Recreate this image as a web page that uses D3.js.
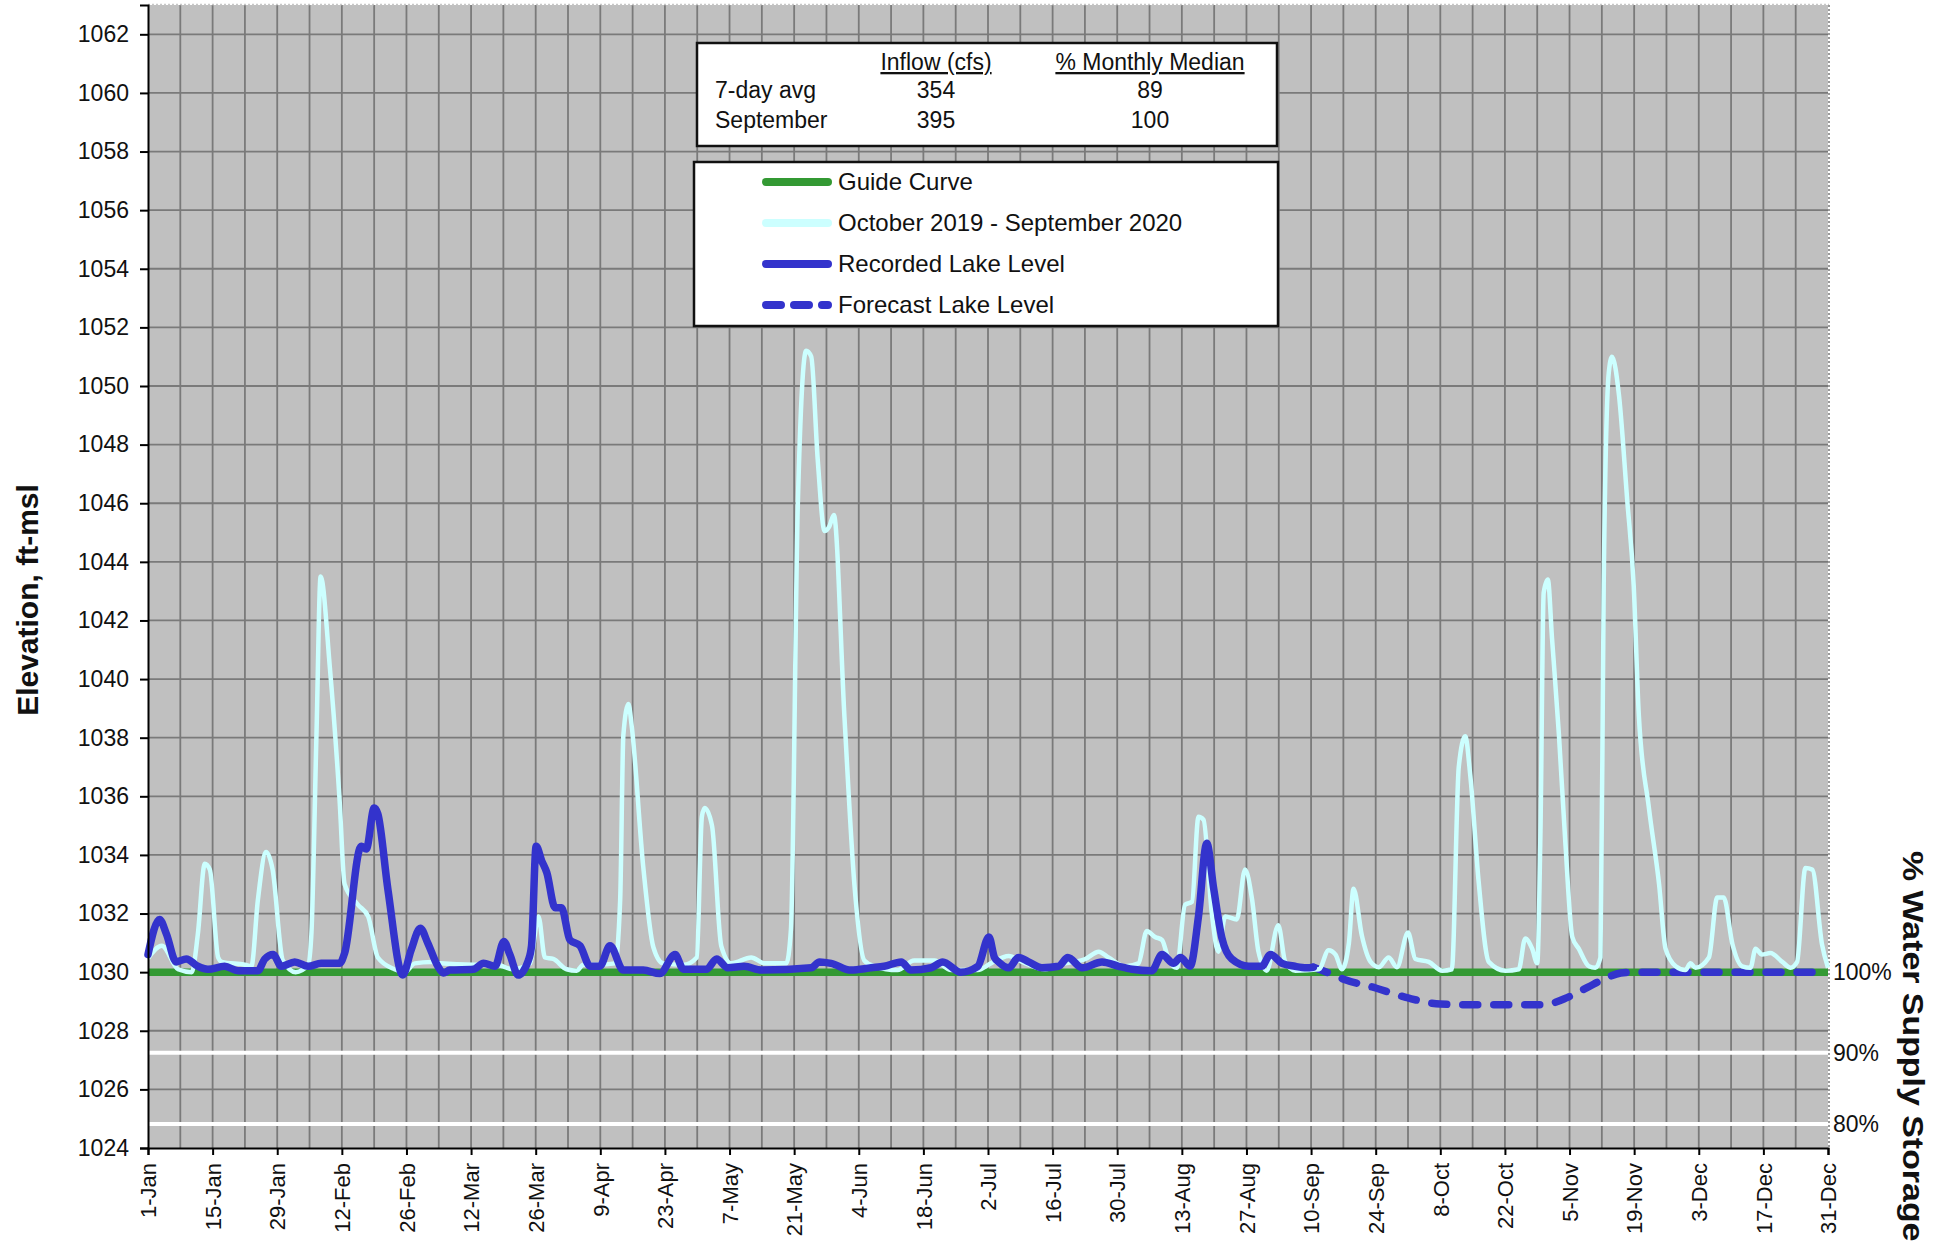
<!DOCTYPE html>
<html>
<head>
<meta charset="utf-8">
<script src="https://cdn.jsdelivr.net/npm/d3@7"></script>
<style>
body{margin:0;background:#fff;}
text{font-family:"Liberation Sans",Arial,sans-serif;fill:#111;}
</style>
</head>
<body>
<div id="chart"></div>
<script>
// x axis: day of year (0 = 1-Jan, 364 = 31-Dec), labels every 14 days
var xTickLabels = ["1-Jan","15-Jan","29-Jan","12-Feb","26-Feb","12-Mar","26-Mar","9-Apr","23-Apr",
    "7-May","21-May","4-Jun","18-Jun","2-Jul","16-Jul","30-Jul","13-Aug","27-Aug","10-Sep",
    "24-Sep","8-Oct","22-Oct","5-Nov","19-Nov","3-Dec","17-Dec","31-Dec"];
var yTicks = [1024,1026,1028,1030,1032,1034,1036,1038,1040,1042,1044,1046,1048,1050,1052,1054,1056,1058,1060,1062];

// right axis, % water supply storage
var storagePct = ["100%","90%","80%"];
var storageLevel = [1030,1027.25,1024.82];

// guide curve
var guideDays = [0,364];
var guideLevels = [1030,1030];

// October 2019 - September 2020
var histDays = [0,3,6.5,9.5,10.8,12.3,13.4,15.2,16,21,22.4,23.8,25.6,27,29.2,32,34.7,35.4,36.5,37.4,
    39.4,41.5,42.6,45.5,47.7,49.8,53.4,55.6,57.8,61.4,63.3,70.5,75.5,79,82.8,84.6,86,87.8,90.7,92.9,
    94.3,97.2,101.2,102.3,103,104.1,104.8,107.3,109.5,111.6,116,118.9,120,120.6,122.2,124.2,126.4,
    130.7,133.6,138.3,139.3,140.8,142.6,143.7,145.1,146.6,147.6,148.6,150.9,153.1,155.2,157.4,162.4,
    166,170.4,174,179.8,182.6,186.5,189.4,194.4,198.7,203.1,206,208.1,211.7,214.6,216.4,218.2,219.7,
    221.1,222.9,224.7,226.2,227.6,228.7,230.5,231.9,233.4,235.9,237.7,239.2,240.6,242.4,244.9,246.4,
    248.6,253.7,255.8,257.3,258.7,260.2,261.2,263,264.9,266.7,268.8,270.6,273,274.6,277.5,280.4,282.5,
    284,285.4,286.5,288.3,290.5,294.1,297,298.4,299.9,301,301.7,302.4,303.3,304.2,305.7,307.1,308.6,
    310,312.2,313.6,314.7,315.4,316.5,317.2,318.7,320.5,321.9,323,325.2,327.4,328.8,331,333.1,334.2,
    335.3,338.2,340,341.4,343.3,345.4,347.2,348.3,349.7,351.5,354.1,355.9,357.3,359.1,360.6,362.7,364];
var histLevels = [1030.47,1030.9,1030.1,1030.0,1031.3,1033.7,1033.5,1030.5,1030.35,1030.25,1030.2,1032.45,
    1034.1,1033.5,1030.4,1030.0,1030.25,1031.3,1038.1,1043.5,1040.4,1035.9,1033.0,1032.3,1031.9,1030.5,
    1030.1,1030.0,1030.3,1030.35,1030.3,1030.25,1030.25,1030.1,1030.3,1031.9,1030.5,1030.45,1030.1,
    1030.05,1030.25,1030.25,1030.3,1032.45,1038.1,1039.15,1038.4,1033.6,1030.85,1030.3,1030.25,1030.5,
    1035.3,1035.6,1035.0,1030.9,1030.3,1030.5,1030.3,1030.3,1031.45,1046.0,1051.2,1051.0,1047.5,1045.05,
    1045.2,1045.6,1038.7,1032.9,1030.4,1030.2,1030.07,1030.4,1030.4,1030.07,1030.07,1030.3,1030.55,
    1030.35,1030.1,1030.3,1030.45,1030.7,1030.5,1030.2,1030.3,1031.4,1031.2,1031.1,1030.45,1030.15,
    1032.3,1032.4,1035.3,1035.2,1032.0,1030.7,1031.9,1031.8,1033.5,1032.5,1030.7,1030.05,1031.6,
    1030.35,1030.05,1030.1,1030.75,1030.6,1030.1,1031.0,1032.85,1031.25,1030.35,1030.17,1030.5,1030.17,
    1031.35,1030.45,1030.35,1030.05,1030.1,1037.0,1038.05,1036.7,1033.1,1030.35,1030.05,1030.1,1031.15,
    1030.8,1030.3,1034.8,1042.95,1043.4,1041.4,1038.1,1034.4,1031.2,1030.8,1030.2,1030.15,1030.5,
    1043.2,1050.45,1051.0,1049.7,1046.1,1043.2,1038.8,1035.6,1033.0,1030.8,1030.2,1030.07,1030.3,
    1030.15,1030.5,1032.55,1032.55,1030.95,1030.2,1030.15,1030.8,1030.6,1030.65,1030.35,1030.15,
    1030.35,1033.55,1033.5,1030.95,1030.15];

// recorded lake level
var recDays = [0,2.5,4,6.1,8.3,10.8,13,16.6,19.5,23.8,25.3,27.1,28.9,31.8,34.7,37.5,41.5,42.6,46.2,47.3,
    49,49.8,52,55.2,57,59,60.6,62.8,64,65.4,70.5,72.7,75.2,77.1,78.4,80.2,82.4,83.1,84.1,85.3,86.4,
    88.2,89.6,91.4,93.6,95.8,97.9,100.1,103,107.3,110.9,114.2,116,121,123.2,125.6,129.2,132.9,143.7,
    145.5,148,152.3,156.7,159.5,163.2,165.3,169.7,172.2,176.1,179.8,182.2,183.4,184.3,186.5,188.6,
    190.8,193.7,197.3,199.3,202.4,206.7,210.3,213.2,217.5,219.7,222.2,223.7,225.8,227.6,229.4,230.9,
    232.7,234.8,238.5,241.3,243.2,245.7,248.5,251,252.5];
var recLevels = [1030.6,1031.8,1031.3,1030.35,1030.45,1030.2,1030.1,1030.2,1030.05,1030.05,1030.45,
    1030.6,1030.2,1030.35,1030.2,1030.3,1030.3,1030.65,1034.3,1034.2,1035.6,1035.4,1032.8,1029.9,
    1030.75,1031.5,1031.0,1030.2,1029.97,1030.07,1030.1,1030.3,1030.2,1031.05,1030.6,1029.9,1030.4,
    1030.9,1034.3,1033.8,1033.4,1032.2,1032.2,1031.1,1030.9,1030.2,1030.2,1030.9,1030.07,1030.07,
    1029.95,1030.6,1030.1,1030.1,1030.45,1030.15,1030.2,1030.07,1030.15,1030.35,1030.3,1030.07,
    1030.15,1030.2,1030.35,1030.07,1030.15,1030.35,1030.0,1030.2,1031.2,1030.5,1030.35,1030.15,
    1030.5,1030.35,1030.15,1030.2,1030.5,1030.15,1030.35,1030.2,1030.1,1030.05,1030.6,1030.3,
    1030.5,1030.2,1031.9,1034.4,1032.85,1031.15,1030.45,1030.2,1030.2,1030.6,1030.3,1030.2,1030.15,1030.17];

// forecast lake level
var fcDays = [252.5,255.4,258.9,266,273,280,285.5,302.3,307.6,312,315.5,319.1,321.7,364];
var fcLevels = [1030.17,1030.0,1029.77,1029.46,1029.12,1028.91,1028.89,1028.89,1029.14,1029.49,
    1029.77,1029.97,1030.0,1030.0];

// inflow table
var tableHeaders = ["Inflow (cfs)","% Monthly Median"];
var tableRows = ["7-day avg","September"];
var tableInflow = ["354","395"];
var tableMedian = ["89","100"];

var legendNames = ["Guide Curve","October 2019 - September 2020","Recorded Lake Level","Forecast Lake Level"];

var width = 1939, height = 1246;
var plotLeft = 148, plotRight = 1828, plotTop = 5, plotBottom = 1148;

var svg = d3.select("#chart")
    .append("svg")
    .attr("width",width)
    .attr("height",height);

var x = d3.scaleLinear().domain([0,364]).range([plotLeft,plotRight]);
var y = d3.scaleLinear().domain([1024,1063]).range([plotBottom,plotTop]);

var green = "#339933", blue = "#3333cc", cyan = "#ccffff";

svg.append("rect")
    .attr("x",plotLeft).attr("y",plotTop)
    .attr("width",plotRight-plotLeft).attr("height",plotBottom-plotTop)
    .attr("fill","#c0c0c0");

// grid
var gridDays = d3.range(7,364,7);
svg.append("g").selectAll("line")
    .data(gridDays)
    .enter().append("line")
    .attr("x1",d=>x(d)).attr("x2",d=>x(d))
    .attr("y1",plotTop).attr("y2",plotBottom)
    .attr("stroke","#7a7a7a").attr("stroke-width",1.8);
svg.append("g").selectAll("line")
    .data(yTicks.slice(1))
    .enter().append("line")
    .attr("x1",plotLeft).attr("x2",plotRight)
    .attr("y1",d=>y(d)).attr("y2",d=>y(d))
    .attr("stroke","#7a7a7a").attr("stroke-width",1.8);

// storage lines (90%, 80%)
svg.append("g").selectAll("line")
    .data(storageLevel.slice(1))
    .enter().append("line")
    .attr("x1",plotLeft).attr("x2",plotRight)
    .attr("y1",d=>y(d)).attr("y2",d=>y(d))
    .attr("stroke","#fff").attr("stroke-width",4);

// plot border top / right (dotted)
svg.append("line").attr("x1",plotLeft).attr("x2",plotRight+1).attr("y1",plotTop-0.5).attr("y2",plotTop-0.5)
    .attr("stroke","#c8c8c8").attr("stroke-dasharray","2,2").attr("stroke-width",1.5);
svg.append("line").attr("x1",plotRight+1).attr("x2",plotRight+1).attr("y1",plotTop).attr("y2",plotBottom)
    .attr("stroke","#9a9a9a").attr("stroke-dasharray","2,2").attr("stroke-width",2);

function pts(days,levels){
    return days.map((d,i)=>[d,levels[i]]);
}
var line = d3.line().x(d=>x(d[0])).y(d=>y(d[1]));
var smooth = d3.line().x(d=>x(d[0])).y(d=>y(d[1])).curve(d3.curveMonotoneX);

svg.append("path")
    .attr("d",line(pts(guideDays,guideLevels)))
    .attr("fill","none").attr("stroke",green).attr("stroke-width",7.5);
svg.append("path")
    .attr("d",smooth(pts(fcDays,fcLevels)))
    .attr("fill","none").attr("stroke",blue).attr("stroke-width",7.5)
    .attr("stroke-dasharray","15,16").attr("stroke-linecap","round");
svg.append("path")
    .attr("d",smooth(pts(histDays,histLevels)))
    .attr("fill","none").attr("stroke",cyan).attr("stroke-width",4.5)
    .attr("stroke-linejoin","round");
svg.append("path")
    .attr("d",smooth(pts(recDays,recLevels)))
    .attr("fill","none").attr("stroke",blue).attr("stroke-width",7.5)
    .attr("stroke-linejoin","round").attr("stroke-linecap","round");

// axes
var yAxis = svg.append("g")
    .attr("transform",`translate(${plotLeft},0)`)
    .call(d3.axisLeft(y).tickValues(yTicks).tickSize(8).tickPadding(11).tickFormat(d3.format("d")));
yAxis.select(".domain").attr("stroke","#000").attr("stroke-width",2);
yAxis.selectAll("line").attr("stroke","#000").attr("stroke-width",2);
yAxis.selectAll("text").attr("font-size",23).attr("font-family","Liberation Sans, Arial, sans-serif").attr("fill","#111");

var xAxis = svg.append("g")
    .attr("transform",`translate(0,${plotBottom})`)
    .call(d3.axisBottom(x).tickValues(xTickLabels.map((t,i)=>i*14)).tickSize(7)
        .tickFormat((d,i)=>xTickLabels[i]));
xAxis.select(".domain").attr("stroke","#000").attr("stroke-width",2);
xAxis.selectAll("line").attr("stroke","#000").attr("stroke-width",2);
xAxis.selectAll("text")
    .attr("font-size",22).attr("font-family","Liberation Sans, Arial, sans-serif").attr("fill","#111")
    .attr("transform","rotate(-90)")
    .attr("x",-15).attr("y",0).attr("dy","0.35em")
    .attr("text-anchor","end");

// right axis labels
svg.append("g").selectAll("text")
    .data(storagePct)
    .enter().append("text")
    .attr("x",plotRight+5)
    .attr("y",(d,i)=>y(storageLevel[i]))
    .attr("dy","0.35em")
    .attr("font-size",23)
    .text(d=>d);

// axis titles
svg.append("text")
    .attr("transform","translate(38,600) rotate(-90)")
    .attr("text-anchor","middle")
    .attr("font-size",30).attr("font-weight","bold")
    .text("Elevation, ft-msl");
svg.append("text")
    .attr("transform","translate(1903,851) rotate(90) scale(1.13,1)")
    .attr("font-size",30).attr("font-weight","bold")
    .text("% Water Supply Storage");

// inflow table
var table = svg.append("g");
table.append("rect")
    .attr("x",697).attr("y",43).attr("width",580).attr("height",103)
    .attr("fill","#fff").attr("stroke","#111").attr("stroke-width",2.5);
var colX = [936,1150];
table.selectAll(".hdr")
    .data(tableHeaders)
    .enter().append("text")
    .attr("x",(d,i)=>colX[i]).attr("y",70)
    .attr("text-anchor","middle").attr("font-size",23)
    .attr("text-decoration","underline")
    .text(d=>d);
table.selectAll(".row")
    .data(tableRows)
    .enter().append("text")
    .attr("x",715).attr("y",(d,i)=>98+i*30)
    .attr("font-size",23)
    .text(d=>d);
table.selectAll(".inf")
    .data(tableInflow)
    .enter().append("text")
    .attr("x",colX[0]).attr("y",(d,i)=>98+i*30)
    .attr("text-anchor","middle").attr("font-size",23)
    .text(d=>d);
table.selectAll(".med")
    .data(tableMedian)
    .enter().append("text")
    .attr("x",colX[1]).attr("y",(d,i)=>98+i*30)
    .attr("text-anchor","middle").attr("font-size",23)
    .text(d=>d);

// legend
var legend = svg.append("g");
legend.append("rect")
    .attr("x",694).attr("y",162).attr("width",584).attr("height",164)
    .attr("fill","#fff").attr("stroke","#111").attr("stroke-width",2.5);
var legendStroke = [green,cyan,blue,blue];
var legendDash = [null,null,null,"15,13"];
var item = legend.selectAll(".item")
    .data(legendNames)
    .enter().append("g")
    .attr("transform",(d,i)=>`translate(0,${182+i*41})`);
item.append("line")
    .attr("x1",766).attr("x2",828)
    .attr("stroke",(d,i)=>legendStroke[i])
    .attr("stroke-width",8)
    .attr("stroke-linecap","round")
    .attr("stroke-dasharray",(d,i)=>legendDash[i]);
item.append("text")
    .attr("x",838).attr("dy","0.35em")
    .attr("font-size",24)
    .text(d=>d);
</script>
</body>
</html>
